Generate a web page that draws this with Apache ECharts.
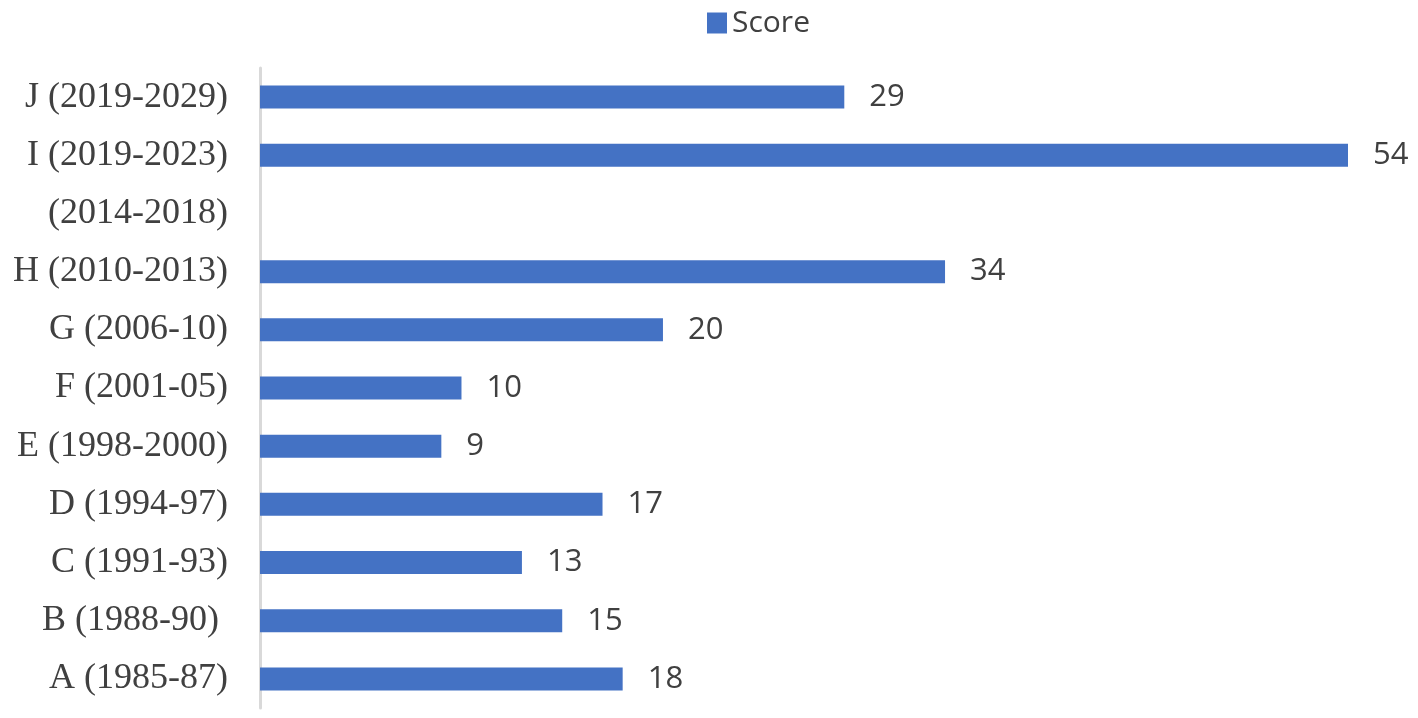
<!DOCTYPE html>
<html>
<head>
<meta charset="utf-8">
<script src="https://cdn.jsdelivr.net/npm/echarts@6/dist/echarts.min.js"></script>
<style>
  html, body { margin: 0; padding: 0; background: #fff; }
  .chart { width: 1418px; height: 718px; }
</style>
</head>
<body>
<div class="chart"></div>
<script>
// categories listed bottom to top
const periods = [
  'A (1985-87)', 'B (1988-90) ', 'C (1991-93)', 'D (1994-97)', 'E (1998-2000)',
  'F (2001-05)', 'G (2006-10)', 'H (2010-2013)', '(2014-2018)', 'I (2019-2023)', 'J (2019-2029)'
]
const scores = [18, 15, 13, 17, 9, 10, 20, 34, '-', 54, 29]

const chart = echarts.init(document.querySelector('.chart'))
chart.setOption({
  animation: false,
  legend: {
    left: 702,
    top: 3,
    icon: 'rect',
    itemWidth: 20,
    itemHeight: 21,
    itemGap: 6,
    textStyle: { fontFamily: 'Open Sans', fontSize: 30, color: '#404040', padding: [0, 0, 0, 0] },
    data: ['Score']
  },
  grid: { left: 260, right: 70, top: 68, bottom: 10, containLabel: false },
  xAxis: {
    type: 'value',
    min: 0,
    max: 54,
    show: false
  },
  yAxis: {
    type: 'category',
    data: periods,
    axisTick: { show: false },
    axisLine: { lineStyle: { color: '#d9d9d9', width: 3 } },
    axisLabel: {
      margin: 32,
      fontFamily: 'Liberation Serif',
      fontSize: 36,
      color: '#404040',
      padding: [4, 0, 0, 0]
    }
  },
  series: [
    {
      name: 'Score',
      type: 'bar',
      data: scores,
      barWidth: 23,
      itemStyle: { color: '#4472c4' },
      label: {
        show: true,
        position: 'right',
        distance: 25,
        fontFamily: 'Open Sans',
        fontSize: 31,
        color: '#404040',
        padding: [4, 0, 0, 0]
      }
    }
  ]
})
</script>
</body>
</html>
